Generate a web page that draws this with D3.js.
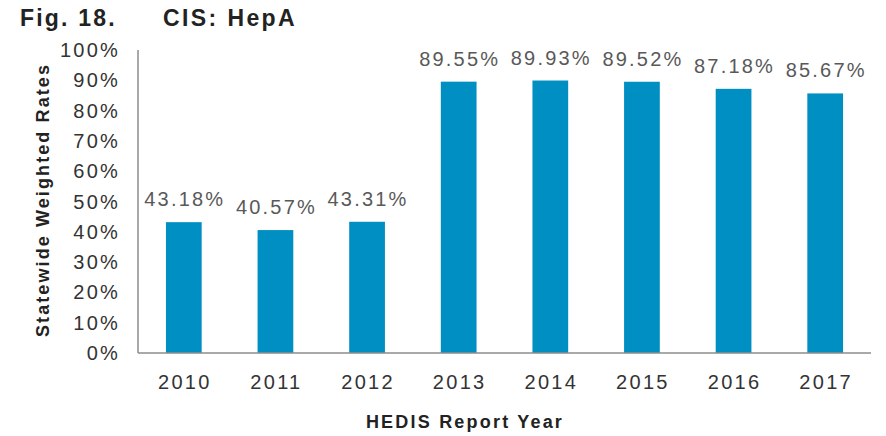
<!DOCTYPE html>
<html>
<head>
<meta charset="utf-8">
<script src="https://cdn.jsdelivr.net/npm/d3@7"></script>
<style>
  body { margin: 0; background: #fff; }
  svg text { font-family: "Liberation Sans", Arial, sans-serif; }
</style>
</head>
<body>
<svg id="chart" width="886" height="436"></svg>
<script>
// chart data
const years = ["2010", "2011", "2012", "2013", "2014", "2015", "2016", "2017"];
const rates = [43.18, 40.57, 43.31, 89.55, 89.93, 89.52, 87.18, 85.67];
const yTicks = [0, 10, 20, 30, 40, 50, 60, 70, 80, 90, 100];

const svg = d3.select("#chart");
const margin = {left: 138, right: 15, top: 50, bottom: 83};
const width = 886 - margin.left - margin.right;
const height = 436 - margin.top - margin.bottom;

const x = d3.scaleBand().domain(years).range([0, width]).paddingInner(0.61).paddingOuter(0.305);
const y = d3.scaleLinear().domain([0, 100]).range([height, 0]);

const g = svg.append("g").attr("transform", `translate(${margin.left},${margin.top})`);

// title
svg.append("text").attr("x", 20).attr("y", 26)
  .attr("font-size", 23).attr("font-weight", "bold").attr("fill", "#222")
  .attr("letter-spacing", 2.2)
  .text("Fig. 18.");
svg.append("text").attr("x", 163).attr("y", 26)
  .attr("font-size", 23).attr("font-weight", "bold").attr("fill", "#222")
  .attr("letter-spacing", 2.4)
  .text("CIS: HepA");

// bars
g.selectAll("rect.bar").data(rates).join("rect")
  .attr("class", "bar")
  .attr("x", (d, i) => x(years[i]))
  .attr("width", x.bandwidth())
  .attr("y", d => y(d))
  .attr("height", d => height - y(d))
  .attr("fill", "#008fc2");

// value labels
g.selectAll("text.val").data(rates).join("text")
  .attr("class", "val")
  .attr("x", (d, i) => x(years[i]) + x.bandwidth() / 2 + 1)
  .attr("y", d => y(d) - 16)
  .attr("text-anchor", "middle")
  .attr("font-size", 20).attr("letter-spacing", 2.2).attr("fill", "#595959")
  .text(d => d.toFixed(2) + "%");

// axes lines
g.append("line").attr("x1", 0).attr("x2", 0).attr("y1", 0).attr("y2", height)
  .attr("stroke", "#8c8c8c").attr("stroke-width", 1.5);
g.append("line").attr("x1", 0).attr("x2", width).attr("y1", height).attr("y2", height)
  .attr("stroke", "#8c8c8c").attr("stroke-width", 1.5);

// y tick labels
g.selectAll("text.yt").data(yTicks).join("text")
  .attr("class", "yt")
  .attr("x", -18).attr("y", d => y(d) + 7)
  .attr("text-anchor", "end")
  .attr("font-size", 20).attr("letter-spacing", 2.2).attr("fill", "#333")
  .text(d => d + "%");

// x tick labels
g.selectAll("text.xt").data(years).join("text")
  .attr("class", "xt")
  .attr("x", d => x(d) + x.bandwidth() / 2 + 1)
  .attr("y", height + 36)
  .attr("text-anchor", "middle")
  .attr("font-size", 20).attr("letter-spacing", 2.3).attr("fill", "#333")
  .text(d => d);

// axis titles
svg.append("text")
  .attr("x", 465).attr("y", 428)
  .attr("text-anchor", "middle")
  .attr("font-size", 18).attr("font-weight", "bold").attr("letter-spacing", 2.2).attr("fill", "#222")
  .text("HEDIS Report Year");
svg.append("text")
  .attr("transform", "translate(49,200) rotate(-90)")
  .attr("text-anchor", "middle")
  .attr("font-size", 18).attr("font-weight", "bold").attr("letter-spacing", 2.1).attr("fill", "#222")
  .text("Statewide Weighted Rates");
</script>
</body>
</html>
